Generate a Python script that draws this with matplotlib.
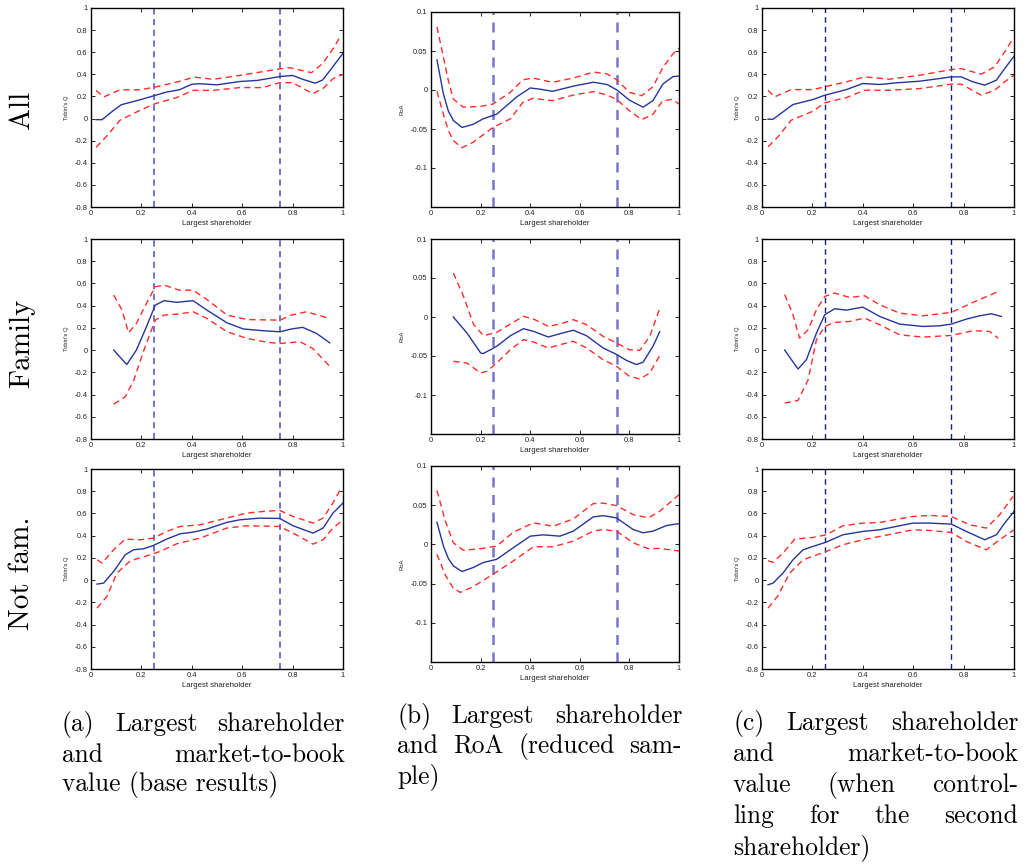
import matplotlib
matplotlib.use("Agg")
import matplotlib.pyplot as plt

plt.rcParams['axes.unicode_minus'] = False
plt.rcParams['font.family'] = ['Liberation Sans', 'DejaVu Sans']

# ---- All firms, Tobin's Q (base results)
all_q_mean_x = [0.02, 0.044, 0.09, 0.12, 0.195, 0.255, 0.30, 0.35, 0.40, 0.43, 0.50, 0.59, 0.66, 0.75, 0.80, 0.84, 0.89, 0.92, 0.96, 1.0]
all_q_mean = [-0.01, -0.01, 0.075, 0.125, 0.17, 0.21, 0.24, 0.26, 0.31, 0.315, 0.305, 0.335, 0.345, 0.38, 0.39, 0.355, 0.32, 0.35, 0.47, 0.59]
all_q_up_x = [0.02, 0.05, 0.115, 0.195, 0.255, 0.34, 0.41, 0.485, 0.59, 0.75, 0.79, 0.875, 0.92, 0.96, 0.99]
all_q_up = [0.255, 0.195, 0.26, 0.26, 0.285, 0.33, 0.375, 0.355, 0.39, 0.45, 0.46, 0.415, 0.50, 0.63, 0.745]
all_q_lo_x = [0.02, 0.06, 0.115, 0.195, 0.255, 0.34, 0.405, 0.485, 0.59, 0.68, 0.75, 0.80, 0.88, 0.92, 0.96, 1.0]
all_q_lo = [-0.26, -0.165, -0.015, 0.075, 0.135, 0.19, 0.255, 0.255, 0.28, 0.28, 0.325, 0.325, 0.225, 0.27, 0.36, 0.40]

# ---- All firms, RoA
all_r_mean_x = [0.024, 0.05, 0.07, 0.09, 0.125, 0.17, 0.21, 0.265, 0.345, 0.40, 0.44, 0.49, 0.575, 0.655, 0.71, 0.75, 0.80, 0.855, 0.895, 0.935, 0.975, 1.0]
all_r_mean = [0.0386, -0.005, -0.027, -0.039, -0.048, -0.044, -0.037, -0.031, -0.009, 0.0026, 0.001, -0.0017, 0.005, 0.010, 0.007, 0.0, -0.013, -0.022, -0.0137, 0.0077, 0.017, 0.018]
all_r_up_x = [0.024, 0.05, 0.07, 0.09, 0.13, 0.20, 0.25, 0.32, 0.37, 0.41, 0.49, 0.575, 0.655, 0.71, 0.75, 0.80, 0.85, 0.895, 0.935, 0.975, 1.0]
all_r_up = [0.081, 0.042, 0.012, -0.0116, -0.022, -0.021, -0.018, -0.003, 0.013, 0.0154, 0.0099, 0.0154, 0.023, 0.0206, 0.0129, -0.003, -0.0073, 0.0043, 0.029, 0.046, 0.0536]
all_r_lo_x = [0.024, 0.05, 0.07, 0.09, 0.125, 0.17, 0.25, 0.32, 0.37, 0.41, 0.49, 0.575, 0.655, 0.71, 0.75, 0.80, 0.85, 0.895, 0.935, 0.975, 1.0]
all_r_lo = [-0.0017, -0.031, -0.052, -0.065, -0.074, -0.067, -0.048, -0.037, -0.016, -0.0107, -0.0137, -0.0064, -0.0021, -0.0064, -0.0124, -0.0266, -0.038, -0.031, -0.0137, -0.012, -0.018]

# ---- All firms, Tobin's Q controlling for second shareholder
all_c_mean_x = [0.024, 0.044, 0.083, 0.123, 0.202, 0.249, 0.335, 0.40, 0.467, 0.533, 0.626, 0.705, 0.751, 0.791, 0.837, 0.884, 0.93, 0.963, 1.0]
all_c_mean = [-0.006, -0.006, 0.06, 0.127, 0.172, 0.211, 0.262, 0.317, 0.308, 0.323, 0.338, 0.362, 0.377, 0.377, 0.332, 0.302, 0.347, 0.452, 0.564]
all_c_up_x = [0.024, 0.05, 0.116, 0.202, 0.249, 0.335, 0.407, 0.506, 0.626, 0.751, 0.791, 0.87, 0.923, 0.963, 0.996]
all_c_up = [0.256, 0.196, 0.262, 0.262, 0.287, 0.332, 0.377, 0.356, 0.392, 0.443, 0.452, 0.401, 0.468, 0.603, 0.724]
all_c_lo_x = [0.024, 0.063, 0.116, 0.202, 0.249, 0.335, 0.407, 0.506, 0.626, 0.751, 0.791, 0.87, 0.923, 0.963, 1.0]
all_c_lo = [-0.256, -0.166, -0.015, 0.066, 0.142, 0.19, 0.256, 0.256, 0.271, 0.311, 0.311, 0.211, 0.256, 0.332, 0.392]

# ---- Family firms, Tobin's Q
fam_q_mean_x = [0.09, 0.142, 0.18, 0.22, 0.255, 0.29, 0.34, 0.405, 0.46, 0.54, 0.605, 0.68, 0.75, 0.795, 0.84, 0.895, 0.947]
fam_q_mean = [0.0, -0.13, 0.0, 0.21, 0.405, 0.445, 0.43, 0.445, 0.36, 0.245, 0.19, 0.175, 0.165, 0.19, 0.205, 0.15, 0.066]
fam_q_up_x = [0.09, 0.123, 0.149, 0.18, 0.22, 0.255, 0.29, 0.35, 0.405, 0.46, 0.54, 0.62, 0.75, 0.795, 0.855, 0.947]
fam_q_up = [0.495, 0.36, 0.156, 0.24, 0.42, 0.57, 0.585, 0.54, 0.54, 0.455, 0.315, 0.275, 0.27, 0.315, 0.345, 0.285]
fam_q_lo_x = [0.09, 0.136, 0.17, 0.21, 0.255, 0.29, 0.35, 0.405, 0.46, 0.54, 0.62, 0.70, 0.75, 0.83, 0.88, 0.947]
fam_q_lo = [-0.486, -0.42, -0.27, 0.0, 0.27, 0.315, 0.325, 0.345, 0.285, 0.165, 0.105, 0.07, 0.06, 0.075, 0.015, -0.145]

# ---- Family firms, RoA
fam_r_mean_x = [0.09, 0.145, 0.20, 0.21, 0.265, 0.32, 0.373, 0.413, 0.473, 0.52, 0.574, 0.627, 0.694, 0.748, 0.788, 0.828, 0.855, 0.895, 0.922]
fam_r_mean = [0.0, -0.0205, -0.046, -0.047, -0.0376, -0.024, -0.015, -0.0184, -0.0256, -0.0214, -0.017, -0.024, -0.0397, -0.048, -0.0556, -0.061, -0.058, -0.0376, -0.019]
fam_r_up_x = [0.09, 0.131, 0.172, 0.212, 0.265, 0.32, 0.373, 0.413, 0.473, 0.52, 0.574, 0.627, 0.694, 0.748, 0.80, 0.842, 0.882, 0.922]
fam_r_up = [0.0564, 0.0265, -0.0098, -0.024, -0.0197, -0.009, 0.0009, -0.0026, -0.012, -0.009, -0.0034, -0.0098, -0.0248, -0.0333, -0.042, -0.0427, -0.0248, 0.0107]
fam_r_lo_x = [0.09, 0.145, 0.20, 0.225, 0.265, 0.32, 0.373, 0.413, 0.473, 0.52, 0.574, 0.627, 0.694, 0.748, 0.80, 0.842, 0.882, 0.922]
fam_r_lo = [-0.0568, -0.059, -0.0718, -0.0697, -0.059, -0.0419, -0.029, -0.032, -0.0397, -0.0355, -0.0312, -0.0397, -0.0547, -0.0632, -0.076, -0.0795, -0.0718, -0.0496]

# ---- Family firms, Tobin's Q controlling for second shareholder
fam_c_mean_x = [0.09, 0.143, 0.176, 0.216, 0.249, 0.288, 0.335, 0.40, 0.467, 0.546, 0.639, 0.705, 0.751, 0.811, 0.864, 0.91, 0.95]
fam_c_mean = [0.0, -0.17, -0.087, 0.153, 0.318, 0.372, 0.36, 0.387, 0.303, 0.234, 0.213, 0.219, 0.234, 0.279, 0.309, 0.327, 0.303]
fam_c_up_x = [0.09, 0.123, 0.149, 0.183, 0.216, 0.249, 0.288, 0.348, 0.407, 0.467, 0.546, 0.639, 0.751, 0.837, 0.93]
fam_c_up = [0.5, 0.318, 0.108, 0.183, 0.363, 0.483, 0.513, 0.474, 0.489, 0.408, 0.333, 0.309, 0.339, 0.429, 0.52]
fam_c_lo_x = [0.09, 0.143, 0.183, 0.216, 0.249, 0.288, 0.348, 0.407, 0.467, 0.546, 0.639, 0.751, 0.837, 0.903, 0.937]
fam_c_lo = [-0.477, -0.453, -0.267, 0.093, 0.213, 0.249, 0.258, 0.288, 0.228, 0.138, 0.117, 0.132, 0.174, 0.168, 0.108]

# ---- Non-family firms, Tobin's Q
nf_q_mean_x = [0.024, 0.05, 0.09, 0.136, 0.169, 0.208, 0.248, 0.30, 0.354, 0.406, 0.459, 0.538, 0.591, 0.67, 0.749, 0.802, 0.881, 0.921, 0.96, 1.0]
nf_q_mean = [-0.036, -0.027, 0.078, 0.228, 0.273, 0.282, 0.312, 0.369, 0.417, 0.432, 0.459, 0.519, 0.543, 0.558, 0.555, 0.489, 0.423, 0.468, 0.603, 0.694]
nf_q_up_x = [0.024, 0.044, 0.09, 0.136, 0.195, 0.248, 0.30, 0.354, 0.433, 0.538, 0.617, 0.683, 0.749, 0.802, 0.881, 0.921, 0.96, 0.993]
nf_q_up = [0.183, 0.153, 0.273, 0.369, 0.363, 0.378, 0.438, 0.483, 0.498, 0.558, 0.603, 0.618, 0.627, 0.573, 0.513, 0.558, 0.694, 0.829]
nf_q_lo_x = [0.024, 0.063, 0.103, 0.156, 0.222, 0.274, 0.34, 0.433, 0.538, 0.617, 0.749, 0.802, 0.881, 0.921, 0.96, 1.0]
nf_q_lo = [-0.252, -0.147, 0.063, 0.174, 0.219, 0.258, 0.327, 0.378, 0.468, 0.489, 0.483, 0.423, 0.324, 0.363, 0.468, 0.543]

# ---- Non-family firms, RoA
nf_r_mean_x = [0.024, 0.05, 0.07, 0.09, 0.125, 0.17, 0.21, 0.265, 0.332, 0.40, 0.453, 0.52, 0.574, 0.654, 0.694, 0.748, 0.815, 0.855, 0.895, 0.949, 1.0]
nf_r_mean = [0.0283, -0.002, -0.018, -0.0274, -0.0346, -0.0295, -0.0232, -0.019, -0.0042, 0.0105, 0.0122, 0.0105, 0.0169, 0.035, 0.0367, 0.0338, 0.019, 0.0148, 0.0169, 0.024, 0.0266]
nf_r_up_x = [0.024, 0.058, 0.09, 0.131, 0.198, 0.265, 0.332, 0.413, 0.493, 0.574, 0.654, 0.694, 0.748, 0.815, 0.876, 0.922, 1.0]
nf_r_up = [0.0688, 0.0295, 0.0021, -0.0076, -0.0055, -0.0021, 0.0156, 0.0274, 0.0232, 0.0325, 0.052, 0.0527, 0.0494, 0.038, 0.0338, 0.0422, 0.0633]
nf_r_lo_x = [0.024, 0.058, 0.09, 0.118, 0.17, 0.25, 0.332, 0.413, 0.493, 0.574, 0.654, 0.694, 0.748, 0.815, 0.876, 0.922, 1.0]
nf_r_lo = [-0.0127, -0.0392, -0.0561, -0.0612, -0.054, -0.038, -0.0211, -0.003, -0.003, 0.0042, 0.0169, 0.019, 0.0169, 0.0021, -0.0055, -0.0051, -0.0084]

# ---- Non-family firms, Tobin's Q controlling for second shareholder
nf_c_mean_x = [0.024, 0.044, 0.083, 0.123, 0.163, 0.202, 0.255, 0.321, 0.40, 0.467, 0.599, 0.665, 0.751, 0.811, 0.884, 0.93, 0.963, 1.0]
nf_c_mean = [-0.042, -0.027, 0.063, 0.183, 0.273, 0.303, 0.342, 0.408, 0.438, 0.453, 0.513, 0.513, 0.504, 0.438, 0.363, 0.408, 0.513, 0.618]
nf_c_up_x = [0.024, 0.044, 0.083, 0.13, 0.202, 0.255, 0.321, 0.40, 0.467, 0.599, 0.665, 0.751, 0.824, 0.89, 0.943, 0.996]
nf_c_up = [0.174, 0.159, 0.243, 0.369, 0.384, 0.408, 0.489, 0.513, 0.519, 0.573, 0.582, 0.573, 0.498, 0.468, 0.588, 0.753]
nf_c_lo_x = [0.024, 0.063, 0.11, 0.163, 0.255, 0.321, 0.40, 0.467, 0.599, 0.665, 0.751, 0.811, 0.89, 0.943, 1.0]
nf_c_lo = [-0.252, -0.141, 0.063, 0.183, 0.258, 0.318, 0.363, 0.393, 0.453, 0.447, 0.429, 0.348, 0.273, 0.363, 0.453]

row_names = ["All", "Family", "Not fam."]
q_ticks = [-0.8, -0.6, -0.4, -0.2, 0, 0.2, 0.4, 0.6, 0.8, 1]
q_labels = ["-0.8", "-0.6", "-0.4", "-0.2", "0", "0.2", "0.4", "0.6", "0.8", "1"]
r_ticks = [-0.1, -0.05, 0, 0.05, 0.1]
r_labels = ["-0.1", "-0.05", "0", "0.05", "0.1"]
x_ticks = [0, 0.2, 0.4, 0.6, 0.8, 1]
x_labels = ["0", "0.2", "0.4", "0.6", "0.8", "1"]
cutoffs = [0.25, 0.75]

captions = [
    [["(a)", "Largest", "shareholder"], ["and", "market-to-book"], ["value", "(base", "results)"]],
    [["(b)", "Largest", "shareholder"], ["and", "RoA", "(reduced", "sam-"], ["ple)"]],
    [["(c)", "Largest", "shareholder"], ["and", "market-to-book"], ["value", "(when", "control-"],
     ["ling", "for", "the", "second"], ["shareholder)"]],
]

W, H = 1025, 867
fig = plt.figure(figsize=(W / 100, H / 100), dpi=100)


def box(l, t, r, b):
    return [l / W, 1 - b / H, (r - l) / W, (b - t) / H]


cols_lr = [(91, 343), (431, 679), (762, 1014)]
rows_q = [(8, 207), (239, 439), (469, 669)]
rows_r = [(12, 207), (239, 434), (466, 662)]

panels = [
    [(all_q_mean_x, all_q_mean, all_q_up_x, all_q_up, all_q_lo_x, all_q_lo),
     (all_r_mean_x, all_r_mean, all_r_up_x, all_r_up, all_r_lo_x, all_r_lo),
     (all_c_mean_x, all_c_mean, all_c_up_x, all_c_up, all_c_lo_x, all_c_lo)],
    [(fam_q_mean_x, fam_q_mean, fam_q_up_x, fam_q_up, fam_q_lo_x, fam_q_lo),
     (fam_r_mean_x, fam_r_mean, fam_r_up_x, fam_r_up, fam_r_lo_x, fam_r_lo),
     (fam_c_mean_x, fam_c_mean, fam_c_up_x, fam_c_up, fam_c_lo_x, fam_c_lo)],
    [(nf_q_mean_x, nf_q_mean, nf_q_up_x, nf_q_up, nf_q_lo_x, nf_q_lo),
     (nf_r_mean_x, nf_r_mean, nf_r_up_x, nf_r_up, nf_r_lo_x, nf_r_lo),
     (nf_c_mean_x, nf_c_mean, nf_c_up_x, nf_c_up, nf_c_lo_x, nf_c_lo)],
]

mean_col = "#27359a"
band_col = "#ff2b2b"
vline_style = [("#4b4bc8", 1.1), ("#7676cc", 1.8), ("#1c1c86", 1.0)]

for i in range(3):
    for j in range(3):
        l, r = cols_lr[j]
        t, b = rows_r[i] if j == 1 else rows_q[i]
        ax = fig.add_axes(box(l, t, r, b))
        mx, m, ux, u, lx, lo = panels[i][j]
        for c in cutoffs:
            ax.axvline(c, color=vline_style[j][0], lw=vline_style[j][1], ls=(0, (4, 3)))
        ax.plot(ux, u, color=band_col, lw=1.0, dashes=(4.5, 3), solid_joinstyle="round")
        ax.plot(lx, lo, color=band_col, lw=1.0, dashes=(4.5, 3), solid_joinstyle="round")
        ax.plot(mx, m, color=mean_col, lw=1.0, solid_joinstyle="round")
        ax.set_xlim(0, 1)
        ax.set_xticks(x_ticks)
        ax.set_xticklabels(x_labels)
        if j == 1:
            ax.set_ylim(-0.15, 0.1)
            ax.set_yticks(r_ticks)
            ax.set_yticklabels(r_labels)
            ax.set_ylabel("RoA", fontsize=4.2, labelpad=4)
        else:
            ax.set_ylim(-0.8, 1)
            ax.set_yticks(q_ticks)
            ax.set_yticklabels(q_labels)
            ax.set_ylabel("Tobin's Q", fontsize=4.2, labelpad=4)
        ax.set_xlabel("Largest shareholder", fontsize=5.6, labelpad=1.5, color="#222222")
        ax.yaxis.label.set_color("#222222")
        ax.tick_params(direction="in", top=True, right=True, length=3, width=0.6,
                       labelsize=5.4, pad=2.5, labelcolor="#222222")
        for s in ax.spines.values():
            s.set_linewidth(1.0)

# row titles on the left
row_y = [110, 343, 573]
for name, y in zip(row_names, row_y):
    fig.text(22 / W, 1 - y / H, name, rotation=90, ha="center", va="center",
             fontsize=21, family=["cmr10", "DejaVu Serif"])

# justified sub-captions
renderer = fig.canvas.get_renderer()
cap_x = [(62, 345), (397, 682), (733, 1018)]
cap_base = [[731, 762, 791], [723, 753, 783], [730, 761, 792, 823, 854]]
cap_font = dict(fontsize=18.3, family=["cmr10", "DejaVu Serif"], va="baseline")
for lines, (x0, x1), bases in zip(captions, cap_x, cap_base):
    for k, (words, yb) in enumerate(zip(lines, bases)):
        y = 1 - yb / H
        if k == len(lines) - 1:
            fig.text(x0 / W, y, " ".join(words), **cap_font)
            continue
        texts = [fig.text(0, y, w, **cap_font) for w in words]
        widths = [tx.get_window_extent(renderer).width for tx in texts]
        gap = (x1 - x0 - sum(widths)) / (len(words) - 1)
        x = x0
        for tx, wd in zip(texts, widths):
            tx.set_x(x / W)
            x += wd + gap

fig.savefig("out.png", dpi=100)
